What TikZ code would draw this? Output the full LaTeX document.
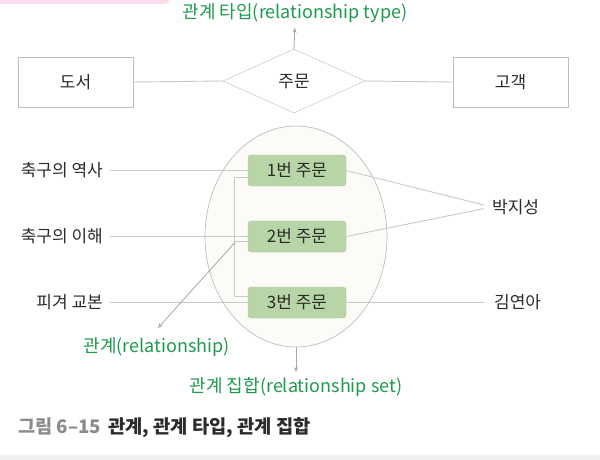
\documentclass[tikz,border=0pt]{standalone}
\usepackage{fontspec}
\setmainfont{Noto Sans CJK KR}
\usetikzlibrary{shapes.geometric,arrows.meta}
\definecolor{grn}{HTML}{1F9A4F}
\definecolor{txt}{HTML}{2B2B2B}
\definecolor{linec}{HTML}{C9C9C9}
\definecolor{boxline}{HTML}{BDBDBD}
\definecolor{boxg}{HTML}{B7D5A6}
\definecolor{boxgd}{HTML}{A6C796}
\definecolor{ellc}{HTML}{BEBEBE}
\definecolor{ellfill}{HTML}{FCFBF8}
\definecolor{pinkc}{HTML}{FCDDEE}
\definecolor{stripc}{HTML}{F0F0F0}
\definecolor{capg}{HTML}{8C8C8C}
\definecolor{arrc}{HTML}{A8A8A8}
\begin{document}
\begin{tikzpicture}[x=1pt,y=-1pt,
  ent/.style={draw=boxline, fill=white, minimum width=115pt, minimum height=50pt, inner sep=0pt, text=txt, font=\fontsize{17}{20}\selectfont},
  relshape/.style={diamond, draw=boxline, fill=white, minimum width=142pt, minimum height=64pt, inner sep=0pt, text=txt, font=\fontsize{17}{20}\selectfont},
  ord/.style={rounded corners=3pt, fill=boxg, draw=boxgd, minimum width=98pt, minimum height=31pt, inner sep=0pt, text=txt, font=\fontsize{17}{20}\selectfont},
  lab/.style={inner sep=0pt, text=txt, font=\fontsize{17}{20}\selectfont},
  glab/.style={inner sep=0pt, text=grn, font=\fontsize{18}{21}\selectfont},
  conn/.style={draw=linec, line width=0.9pt},
  arr/.style={draw=arrc, line width=0.8pt, -{Stealth[length=5pt,width=4pt]}}
]
\useasboundingbox (0,0) rectangle (600,460);
\fill[white] (0,0) rectangle (600,460);
\fill[pinkc, rounded corners=6pt] (-10,-10) rectangle (170,4);
\fill[stripc] (0,455) rectangle (600,460);

% top: relationship type
\node[ent] (doseo) at (75.5,82) {도서};
\node[ent] (gogaek) at (510.5,82) {고객};
\node[relshape] (jm) at (294,81) {주문};
\node[glab] (ttype) at (295,13) {관계 타입(relationship type)};
\draw[conn] (doseo.east) -- (jm.west);
\draw[conn] (jm.east) -- (gogaek.west);
\draw[arr, shorten >=5pt] (jm.north) -- (ttype.south);

% relationship set
\node[ellipse, draw=ellc, fill=ellfill, line width=0.7pt, minimum width=182pt, minimum height=221pt, inner sep=0pt] (set) at (296,236.5) {};

\node[lab, anchor=east] (b1) at (103,170.5) {축구의 역사};
\node[lab, anchor=east] (b2) at (103,236.5) {축구의 이해};
\node[lab, anchor=east] (b3) at (103,302.5) {피겨 교본};
\node[lab, anchor=west] (p) at (492,207) {박지성};
\node[lab, anchor=west] (k) at (494,302.5) {김연아};

\draw[conn, shorten <=7pt] (b1.east) -- (297,170.5);
\draw[conn, shorten <=7pt] (b2.east) -- (297,236.5);
\draw[conn, shorten <=7pt] (b3.east) -- (297,302.5);

\node[ord] (o1) at (297,170.5) {1번 주문};
\node[ord] (o2) at (297,236.5) {2번 주문};
\node[ord] (o3) at (297,302.5) {3번 주문};

\draw[conn, shorten >=8pt] (o1.east) -- (p.west);
\draw[conn, shorten >=8pt] (o2.east) -- (p.west);
\draw[conn, shorten >=10pt] (o3.east) -- (k.west);

% bracket
\draw[conn] ([yshift=-6.5pt]o1.west) -- ++(-13,0) |- ([yshift=6.5pt]o3.west);
\draw[conn] ([yshift=-4.5pt]o2.west) -- ++(-13,0) coordinate (brk);

\node[glab] (rlab) at (156.5,347) {관계(relationship)};
\coordinate (rtip) at (158,328);
\draw[arr] ([yshift=-1.5pt]brk) -- (rtip);

\node[glab] (rset) at (296,387) {관계 집합(relationship set)};
\draw[arr, shorten >=5pt] (set.south) -- (rset.north);

% caption
\node[anchor=west, inner sep=0pt, font=\fontsize{18.7}{22}\selectfont\bfseries, text=txt] (cap) at (18,428) {\textcolor{capg}{그림 6–15}\hspace{7pt}관계, 관계 타입, 관계 집합};
\end{tikzpicture}
\end{document}
